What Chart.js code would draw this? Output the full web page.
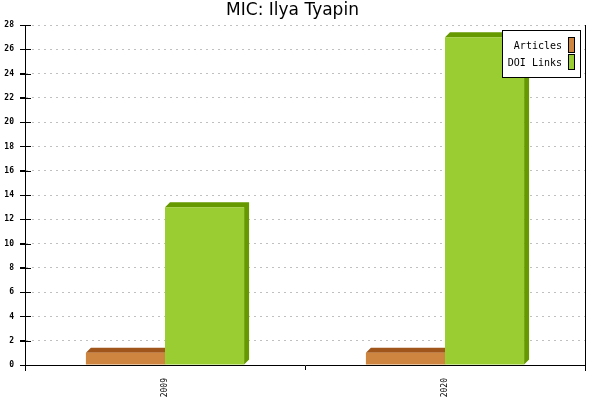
<!DOCTYPE html>
<html>
<head>
<meta charset="utf-8">
<script src="https://cdn.jsdelivr.net/npm/chart.js@4/dist/chart.umd.min.js"></script>
<style>
  html, body { margin: 0; padding: 0; background: #fff; }
  #wrap { width: 600px; height: 400px; }
</style>
</head>
<body>
<div id="wrap"><canvas id="c"></canvas></div>
<script>
// ── DADOS ─────────────────────────────────────────────────────────
const years = ['2009', '2020'];
const articles = [1, 1];
const doiLinks = [13, 27];
const seriesNames = ['Articles', 'DOI Links'];

const fronts = ['#cd853f', '#9acd32'];
const darks  = ['#a0561a', '#669900'];
const DEPTH = 5;
const MONO = '"DejaVu Sans Mono", monospace';

// faces 3D (topo e lado) desenhadas antes das barras
const depthFaces = {
  id: 'depthFaces',
  beforeDatasetsDraw(chart) {
    const ctx = chart.ctx;
    chart.data.datasets.forEach((ds, di) => {
      chart.getDatasetMeta(di).data.forEach(bar => {
        const { x, y, base, width } = bar.getProps(['x', 'y', 'base', 'width'], true);
        const l = x - width / 2, r = x + width / 2;
        ctx.save();
        ctx.fillStyle = darks[di];
        ctx.beginPath();
        ctx.moveTo(l, y);
        ctx.lineTo(l + DEPTH, y - DEPTH);
        ctx.lineTo(r + DEPTH, y - DEPTH);
        ctx.lineTo(r + DEPTH, base - DEPTH);
        ctx.lineTo(r, base);
        ctx.lineTo(r, y);
        ctx.closePath();
        ctx.fill();
        ctx.restore();
      });
    });
  }
};

// eixos, marcas do eixo y + legenda com caixa
const frame = {
  id: 'frame',
  afterDraw(chart) {
    const ctx = chart.ctx;
    const a = chart.chartArea;
    const ys = chart.scales.y;
    const lx = Math.floor(a.left), rx = Math.floor(a.right);
    ctx.save();
    ctx.fillStyle = '#000';
    ctx.fillRect(lx, Math.floor(a.top), 1, a.bottom + 6 - a.top);
    ctx.fillRect(rx, Math.floor(a.top), 1, a.bottom + 6 - a.top);
    ys.ticks.forEach(t => {
      const py = Math.round(ys.getPixelForValue(t.value));
      ctx.fillRect(lx - 5, py, 11, 1);
    });

    ctx.strokeStyle = '#000';
    ctx.lineWidth = 1;
    const bx = 502.5, by = 30.5, bw = 78, bh = 47;
    ctx.fillStyle = '#fff';
    ctx.fillRect(bx, by, bw, bh);
    ctx.strokeRect(bx, by, bw, bh);
    ctx.font = '10px ' + MONO;
    ctx.textAlign = 'right';
    ctx.textBaseline = 'alphabetic';
    seriesNames.forEach((name, i) => {
      const ty = 49 + i * 17;
      ctx.fillStyle = '#000';
      ctx.fillText(name, 562, ty);
      ctx.fillStyle = fronts[i];
      ctx.fillRect(568.5, 37.5 + i * 17, 6, 15);
      ctx.strokeRect(568.5, 37.5 + i * 17, 6, 15);
    });
    ctx.restore();
  }
};

new Chart(document.getElementById('c'), {
  type: 'bar',
  data: {
    labels: years,
    datasets: [
      { label: seriesNames[0], data: articles, backgroundColor: fronts[0], borderWidth: 0 },
      { label: seriesNames[1], data: doiLinks, backgroundColor: fronts[1], borderWidth: 0 },
    ],
  },
  options: {
    responsive: true,
    maintainAspectRatio: false,
    animation: false,
    devicePixelRatio: 1,
    layout: { padding: { left: 0, right: 15, top: 0, bottom: 0 } },
    datasets: { bar: { categoryPercentage: 0.565, barPercentage: 1 } },
    plugins: {
      legend: { display: false },
      tooltip: { enabled: false },
      title: {
        display: true,
        text: 'MIC: Ilya Tyapin',
        color: '#000',
        font: { family: '"DejaVu Sans", sans-serif', size: 17, weight: 'normal', lineHeight: 1 },
        padding: { top: 2, bottom: 6 },
      },
    },
    scales: {
      x: {
        offset: true,
        grid: { drawOnChartArea: false, color: '#000', tickLength: 5, offset: true },
        border: { color: '#000', width: 1 },
        ticks: {
          color: '#000', font: { family: MONO, size: 8 },
          minRotation: 90, maxRotation: 90, autoSkip: false, padding: 8,
        },
        afterFit(s) { s.height = 35; },
      },
      y: {
        min: 0, max: 28,
        grid: { color: '#c0c0c0', tickColor: '#000', tickLength: 5 },
        border: { color: '#000', width: 1, dash: [2, 4] },
        ticks: { stepSize: 2, color: '#000', font: { family: MONO, size: 8, weight: 'bold' }, padding: 6 },
        afterFit(s) { s.width = 25; },
      },
    },
  },
  plugins: [depthFaces, frame],
});
</script>
</body>
</html>
